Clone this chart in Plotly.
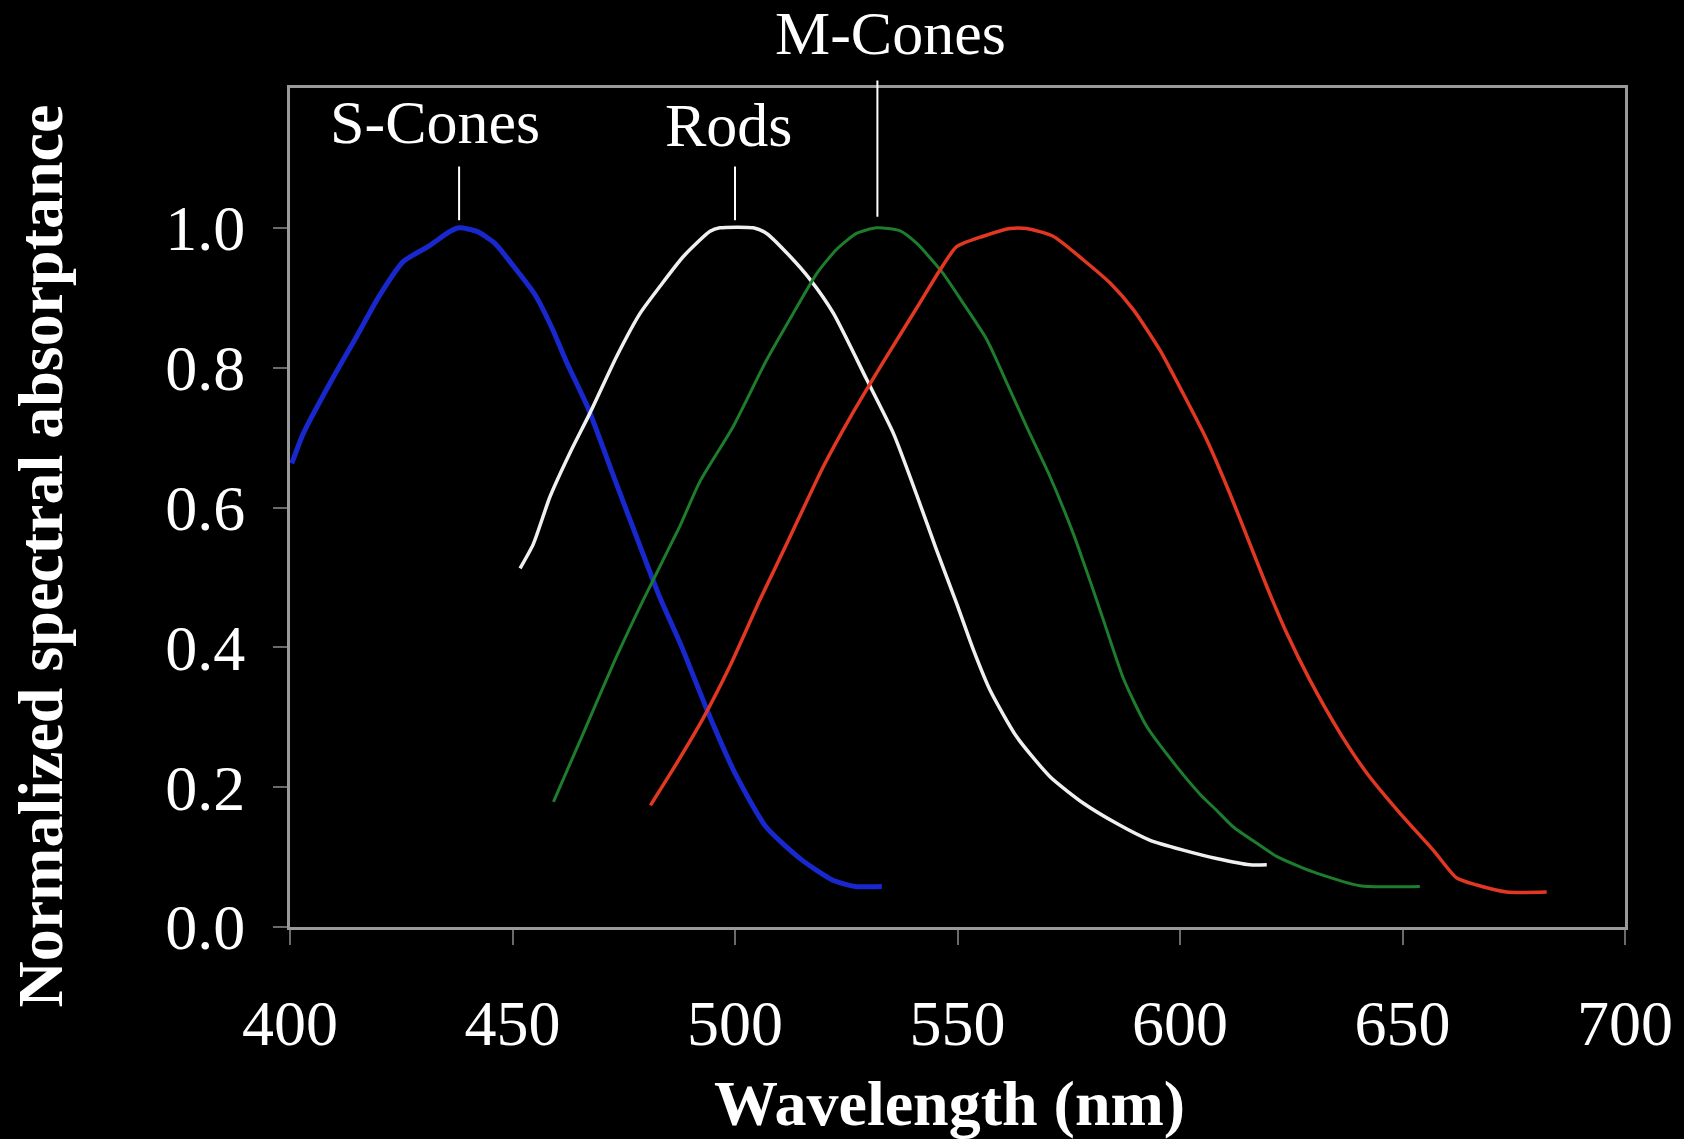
import plotly.graph_objects as go

# ---- data ----
s_wl = [400.4, 403, 409, 415, 420, 425.5, 431, 436, 438, 442, 446, 450, 455, 459, 462, 467,
        473, 479, 483, 488, 494, 500, 507, 515, 522, 527, 533]
s_val = [0.663, 0.706, 0.778, 0.845, 0.902, 0.952, 0.973, 0.995, 1.0, 0.995, 0.978, 0.947,
         0.905, 0.855, 0.810, 0.742, 0.640, 0.539, 0.473, 0.401, 0.306, 0.220, 0.143, 0.096,
         0.067, 0.058, 0.058]

rod_wl = [451.7, 454.7, 458.4, 462.9, 467.4, 473.4, 478.7, 483.1, 488.4, 494.4, 496.6, 504.1,
          507.1, 512.4, 516.9, 522.1, 529.6, 535.6, 541, 545.3, 549.8, 553.6, 557.3, 563.3,
          570.8, 578.3, 585.8, 593.3, 600.7, 608.2, 615.7, 619.5]
rod_val = [0.513, 0.548, 0.615, 0.678, 0.735, 0.816, 0.878, 0.916, 0.959, 0.995, 1.0, 1.0,
           0.992, 0.959, 0.926, 0.878, 0.783, 0.706, 0.615, 0.539, 0.463, 0.396, 0.339, 0.272,
           0.215, 0.177, 0.148, 0.124, 0.110, 0.098, 0.089, 0.089]

m_wl = [459.2, 465.9, 473.4, 479.4, 481.6, 486.1, 487.6, 492.1, 499.6, 507.1, 513.1, 518.4,
        522.8, 527.3, 531.8, 537, 540.8, 546.5, 551.3, 556.6, 561.1, 565.5, 570.8, 576, 578.3,
        581.3, 583, 587.3, 592.5, 599.3, 604.5, 608.2, 612, 617.2, 621.7, 627, 630.7, 640.4, 653.9]
m_val = [0.179, 0.277, 0.387, 0.468, 0.496, 0.554, 0.573, 0.637, 0.716, 0.811, 0.878, 0.935,
         0.969, 0.992, 1.0, 0.996, 0.978, 0.937, 0.892, 0.840, 0.778, 0.716, 0.644, 0.563, 0.522,
         0.467, 0.435, 0.355, 0.287, 0.229, 0.190, 0.167, 0.143, 0.120, 0.101, 0.086, 0.077,
         0.059, 0.058]

l_wl = [481, 486.5, 492.8, 499, 505.6, 512, 519.8, 525.8, 533.3, 540.8, 546.1, 549.8, 555.8,
        561.8, 565.5, 571.5, 578.3, 584.3, 589.5, 595.5, 600.7, 606, 611.2, 615.7, 619.5, 624,
        629.2, 636, 642, 649.4, 656.9, 662.2, 666.7, 673.4, 682.4]
l_val = [0.174, 0.230, 0.298, 0.375, 0.468, 0.553, 0.658, 0.728, 0.808, 0.885, 0.940, 0.973,
         0.988, 0.999, 0.999, 0.988, 0.954, 0.921, 0.883, 0.825, 0.763, 0.697, 0.620, 0.548,
         0.487, 0.420, 0.353, 0.277, 0.220, 0.163, 0.110, 0.070, 0.060, 0.050, 0.050]

x_ticks = [400, 450, 500, 550, 600, 650, 700]
y_ticks = [0.0, 0.2, 0.4, 0.6, 0.8, 1.0]
y_ticktext = ["0.0", "0.2", "0.4", "0.6", "0.8", "1.0"]

labels = ["S-Cones", "Rods", "M-Cones"]
label_x = [432.6, 498.6, 535.0]
label_y_paper = [0.960, 0.956, 1.066]
leader_x = [438, 500, 532]
leader_y0 = [1.011, 1.011, 1.016]
leader_y1 = [1.090, 1.090, 1.213]

series = [
    (s_wl, s_val, "rgb(25,40,205)", 5),
    (rod_wl, rod_val, "rgb(240,240,240)", 3.5),
    (m_wl, m_val, "rgb(30,125,45)", 3),
    (l_wl, l_val, "rgb(225,55,35)", 3.5),
]

SERIF = "Liberation Serif, Times New Roman, serif"

fig = go.Figure()
for xs, ys, col, w in series:
    fig.add_trace(go.Scatter(x=xs, y=ys, mode="lines",
                             line=dict(color=col, width=w, shape="spline", smoothing=0.6),
                             hoverinfo="skip"))

axis_common = dict(showgrid=False, zeroline=False, showline=True, linecolor="#9a9a9a",
                   linewidth=3, mirror=True, ticks="outside", tickwidth=2,
                   tickcolor="#6a6a6a",
                   tickfont=dict(family=SERIF, size=64, color="white"))

fig.update_xaxes(range=[400, 700], tickvals=x_ticks, ticklen=15,
                 ticklabelstandoff=23, **axis_common)
fig.update_yaxes(range=[0, 1.2], tickvals=y_ticks, ticktext=y_ticktext, ticklen=14,
                 ticklabelstandoff=15, **axis_common)

annotations = []
for t, lx, ly in zip(labels, label_x, label_y_paper):
    annotations.append(dict(text=t, x=lx, xref="x", y=ly, yref="paper",
                            showarrow=False, xanchor="center", yanchor="middle",
                            font=dict(family=SERIF, size=62, color="white")))
for x0, y0, y1 in zip(leader_x, leader_y0, leader_y1):
    annotations.append(dict(text="", x=x0, y=y0, xref="x", yref="y",
                            ax=x0, ay=y1, axref="x", ayref="y",
                            showarrow=True, arrowhead=0, arrowwidth=2,
                            arrowcolor="white", standoff=0, startstandoff=0))
annotations.append(dict(text="<b>Normalized spectral absorptance</b>", textangle=-90,
                        x=-0.187, y=0.442, xref="paper", yref="paper", showarrow=False,
                        xanchor="center", yanchor="middle",
                        font=dict(family=SERIF, size=64, color="white")))
annotations.append(dict(text="<b>Wavelength (nm)</b>",
                        x=0.494, y=-0.210, xref="paper", yref="paper", showarrow=False,
                        xanchor="center", yanchor="middle",
                        font=dict(family=SERIF, size=64, color="white")))

fig.update_layout(width=1684, height=1139,
                  margin=dict(l=290, r=59, t=88, b=212),
                  paper_bgcolor="black", plot_bgcolor="black",
                  showlegend=False, annotations=annotations)

fig.write_html("out.html")
